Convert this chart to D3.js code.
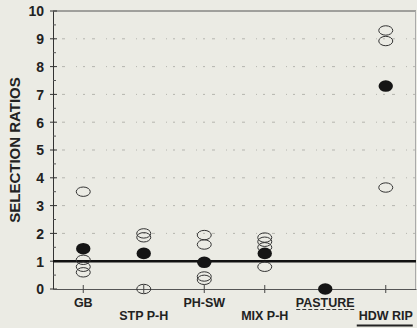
<!DOCTYPE html>
<html><head><meta charset="utf-8">
<script src="https://cdn.jsdelivr.net/npm/d3@7"></script>
<style>
html,body{margin:0;padding:0;background:#ebebe4;}
svg{display:block;}
text{font-family:"Liberation Sans",Arial,sans-serif;font-weight:bold;fill:#222;}
</style></head>
<body><svg id="c" width="417" height="328"></svg>
<script>
const categories = ["GB","STP P-H","PH-SW","MIX P-H","PASTURE","HDW RIP"];
// filled points (mean selection ratio per habitat)
const filledValues = [1.45, 1.28, 0.96, 1.28, 0.0, 7.3];
// open points (individual selection ratios)
const openValues = [
  [3.5, 1.05, 0.8, 0.6],
  [2.0, 1.86, 0.0],
  [1.94, 1.6, 0.45, 0.33],
  [1.85, 1.7, 1.5, 0.8],
  [],
  [9.3, 8.92, 3.65]
];
const yTicks = [0,1,2,3,4,5,6,7,8,9,10];
const gridValues = [2,3,4,5,6,7,8,9];
const refValue = 1;

const svg = d3.select("#c");
const L = 53, R = 416, T = 11, B = 289;
const x = d3.scaleBand().domain(categories).range([L, R]).padding(0);
const y = d3.scaleLinear().domain([0, 10]).range([B, T]);
const cx = c => x(c) + x.bandwidth()/2;

// faint dotted grid lines
svg.append("g").selectAll("line").data(gridValues).join("line")
  .attr("x1", L).attr("x2", R).attr("y1", d=>y(d)).attr("y2", d=>y(d))
  .attr("stroke", "#8a8a85").attr("stroke-width", 1)
  .attr("stroke-dasharray", "2,7,3,11,1,6").attr("opacity", 0.55);

// top & right frame
svg.append("line").attr("x1", L).attr("x2", R).attr("y1", y(10)).attr("y2", y(10))
  .attr("stroke", "#555").attr("stroke-width", 1);
svg.append("line").attr("x1", R-0.5).attr("x2", R-0.5).attr("y1", y(10)).attr("y2", B)
  .attr("stroke", "#aaa").attr("stroke-width", 1);

// y axis
const yAxis = d3.axisLeft(y).tickValues(yTicks).tickSize(0).tickPadding(9);
const gy = svg.append("g").attr("transform", `translate(${L},0)`).call(yAxis);
gy.select(".domain").attr("stroke", "#333");
gy.selectAll("text").style("font-size", "14px").attr("fill", "#222").attr("dy", "0.35em");
// major ticks crossing the axis
svg.append("g").selectAll("line").data(yTicks).join("line")
  .attr("x1", L-3).attr("x2", L+4).attr("y1", d=>y(d)).attr("y2", d=>y(d))
  .attr("stroke", "#333");
// minor ticks
const minor = d3.range(0.5, 10, 1);
svg.append("g").selectAll("line").data(minor).join("line")
  .attr("x1", L).attr("x2", L+3).attr("y1", d=>y(d)).attr("y2", d=>y(d))
  .attr("stroke", "#555");

// x axis
const xAxis = d3.axisBottom(x).tickSize(0).tickFormat("");
const gx = svg.append("g").attr("transform", `translate(0,${B})`).call(xAxis);
gx.select(".domain").attr("stroke", "#555");
svg.append("g").selectAll("line").data(categories).join("line")
  .attr("x1", d=>cx(d)).attr("x2", d=>cx(d)).attr("y1", B-4).attr("y2", B+4)
  .attr("stroke", "#444");

// category labels, staggered
svg.append("g").selectAll("text").data(categories).join("text")
  .attr("x", d=>cx(d)).attr("y", (d,i)=> i%2===0 ? 306.5 : 319.5)
  .attr("text-anchor", "middle").style("font-size", "12.5px").text(d=>d);
// underlines for PASTURE (dashed) and HDW RIP (solid)
const pasX = cx("PASTURE");
svg.append("line").attr("x1", pasX-29).attr("x2", pasX+29).attr("y1", 309.5).attr("y2", 309.5)
  .attr("stroke", "#333").attr("stroke-width", 1).attr("stroke-dasharray", "4,2");
const hdwX = cx("HDW RIP");
svg.append("line").attr("x1", hdwX-29).attr("x2", hdwX+27).attr("y1", 325.5).attr("y2", 325.5)
  .attr("stroke", "#222").attr("stroke-width", 2);

// reference line at 1
svg.append("line").attr("x1", L).attr("x2", R).attr("y1", y(refValue)).attr("y2", y(refValue))
  .attr("stroke", "#111").attr("stroke-width", 2.5);

// open points
const openPts = [];
categories.forEach((c,i)=>openValues[i].forEach(v=>openPts.push({c, v})));
svg.append("g").selectAll("ellipse").data(openPts).join("ellipse")
  .attr("cx", d=>cx(d.c)).attr("cy", d=>y(d.v)).attr("rx", 7).attr("ry", 4.7)
  .attr("fill", "none").attr("stroke", "#333").attr("stroke-width", 1);

// filled points
svg.append("g").selectAll("ellipse").data(categories).join("ellipse")
  .attr("cx", d=>cx(d)).attr("cy", (d,i)=>y(filledValues[i])).attr("rx", 7.2).attr("ry", 5.8)
  .attr("fill", "#151515");

// y axis title
svg.append("text").attr("transform", "translate(20,150) rotate(-90)")
  .attr("text-anchor", "middle").style("font-size", "15px").text("SELECTION RATIOS");
</script></body></html>
